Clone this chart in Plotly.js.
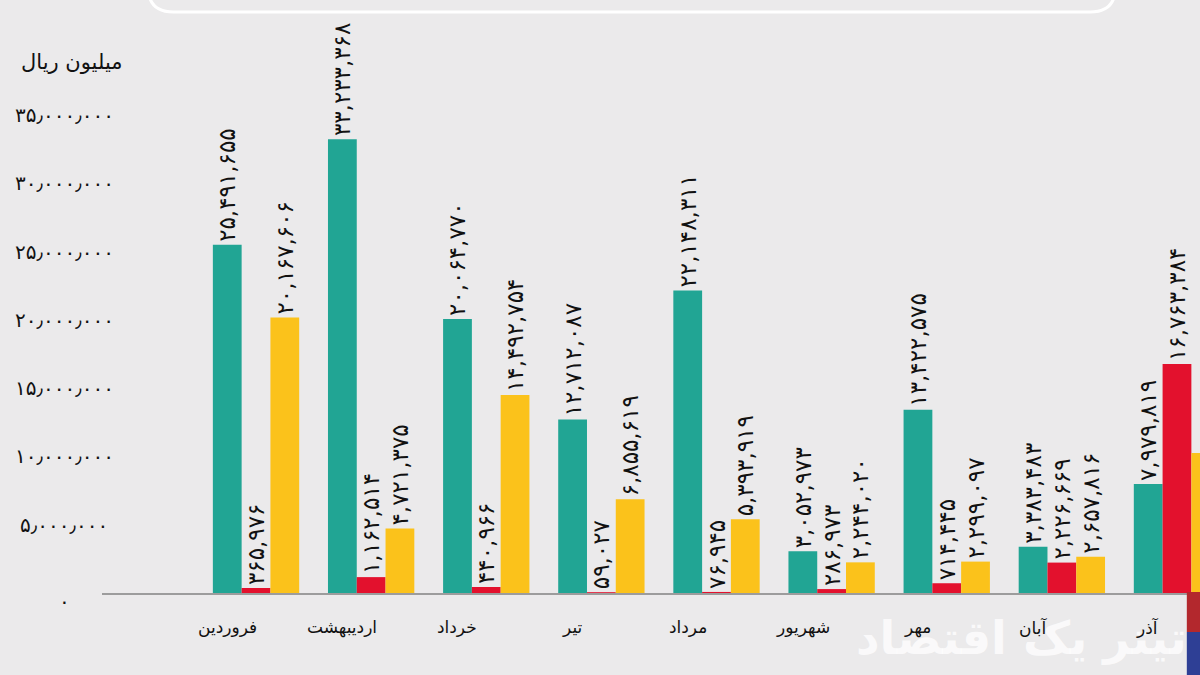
<!DOCTYPE html>
<html>
<head>
<meta charset="utf-8">
<script src="https://cdn.plot.ly/plotly-3.0.1.min.js"></script>
<style>
  html, body { margin: 0; padding: 0; background: #ebeaeb; }
  #graph { width: 1200px; height: 675px; }
</style>
</head>
<body>
<div id="graph"></div>
<script>
var months = ['فروردین', 'اردیبهشت', 'خرداد', 'تیر', 'مرداد', 'شهریور', 'مهر', 'آبان', 'آذر'];
var tealValues = [25491655, 33233368, 20064770, 12712087, 22148311, 3052973, 13422575, 3383483, 7979819];
var redValues = [365976, 1162514, 440966, 59027, 76945, 286973, 714445, 2226669, 16763384];
var yellowValues = [20167606, 4721375, 14492754, 6855619, 5393919, 2244020, 2299097, 2657816, 10250000];
var yTicks = [0, 5000000, 10000000, 15000000, 20000000, 25000000, 30000000, 35000000];
var yUnit = 'میلیون ریال';
var watermark = 'تیتر یک اقتصاد';

// persian digits, with a chosen thousands separator
function fa(n, sep) {
  return n.toLocaleString('en-US')
    .replace(/\d/g, function (d) { return '۰۱۲۳۴۵۶۷۸۹'[d]; })
    .replace(/,/g, sep);
}

var font = 'DejaVu Sans';

function barTrace(vals, color) {
  return {
    x: months,
    y: vals,
    type: 'bar',
    marker: { color: color },
    text: vals.map(function (v) { return fa(v, ','); }),
    textposition: 'outside',
    textangle: -90,
    constraintext: 'none',
    cliponaxis: false,
    textfont: { family: font, size: 23, color: '#111' },
    hoverinfo: 'none'
  };
}

var data = [
  barTrace(tealValues, '#21a594'),
  barTrace(redValues, '#e3112d'),
  barTrace(yellowValues, '#fbc21b')
];

var annotations = [];

// y unit label
annotations.push({
  xref: 'paper', yref: 'paper', x: 0, y: 1, xshift: -31, yshift: 53,
  text: yUnit, showarrow: false, xanchor: 'center', yanchor: 'middle',
  font: { family: font, size: 21, color: '#111' }
});

// y tick labels, centred like the original
yTicks.forEach(function (t) {
  annotations.push({
    xref: 'paper', yref: 'y', x: 0, y: t, xshift: -38, yshift: t === 0 ? -8 : 0,
    text: fa(t, '٫'), showarrow: false, xanchor: 'center', yanchor: 'middle',
    font: { family: font, size: 20, color: '#111' }
  });
});

// watermark (drawn before month labels so they sit on top)
annotations.push({
  xref: 'paper', yref: 'paper', x: 0.837, y: 0, yshift: -45,
  text: '<b>' + watermark + '</b>', showarrow: false, xanchor: 'center', yanchor: 'middle',
  font: { family: font, size: 46, color: 'rgba(255,255,255,0.75)' }
});

// month labels, sitting under the teal bar of each group
months.forEach(function (m) {
  annotations.push({
    xref: 'x', yref: 'paper', x: m, y: 0, xshift: -29, yshift: -34,
    text: m, showarrow: false, xanchor: 'center', yanchor: 'middle',
    font: { family: font, size: 17, color: '#111' }
  });
});

var shapes = [
  // rounded box at the top, cropped
  {
    type: 'path', xref: 'paper', yref: 'paper',
    path: 'M 0.042 1.30 L 0.042 1.268 Q 0.042 1.2155 0.065 1.2155 L 0.90 1.2155 Q 0.923 1.2155 0.923 1.268 L 0.923 1.30',
    line: { color: '#ffffff', width: 3 }
  },
  // side strips at the bottom right
  {
    type: 'rect', xref: 'paper', yref: 'paper', layer: 'above',
    x0: 0.988, x1: 1.01, y0: 0.002, y1: -0.0816,
    fillcolor: '#b3282d', line: { width: 0 }
  },
  {
    type: 'rect', xref: 'paper', yref: 'paper', layer: 'above',
    x0: 0.988, x1: 1.01, y0: -0.0816, y1: -0.18,
    fillcolor: '#2e3f95', line: { width: 0 }
  }
];

var layout = {
  width: 1200,
  height: 675,
  margin: { l: 102, r: 0, t: 115, b: 82 },
  paper_bgcolor: '#ebeaeb',
  plot_bgcolor: '#ebeaeb',
  barmode: 'group',
  bargap: 0.25,
  bargroupgap: 0,
  showlegend: false,
  hovermode: false,
  xaxis: {
    type: 'category',
    range: [-1.338, 8.2],
    showticklabels: false,
    ticks: '',
    showline: true,
    linecolor: '#9c9c9c',
    linewidth: 2,
    showgrid: false,
    zeroline: false,
    fixedrange: true
  },
  yaxis: {
    range: [0, 35000000],
    showticklabels: false,
    ticks: '',
    showline: false,
    showgrid: false,
    zeroline: false,
    fixedrange: true
  },
  annotations: annotations,
  shapes: shapes
};

Plotly.newPlot('graph', data, layout, { staticPlot: true });
</script>
</body>
</html>
